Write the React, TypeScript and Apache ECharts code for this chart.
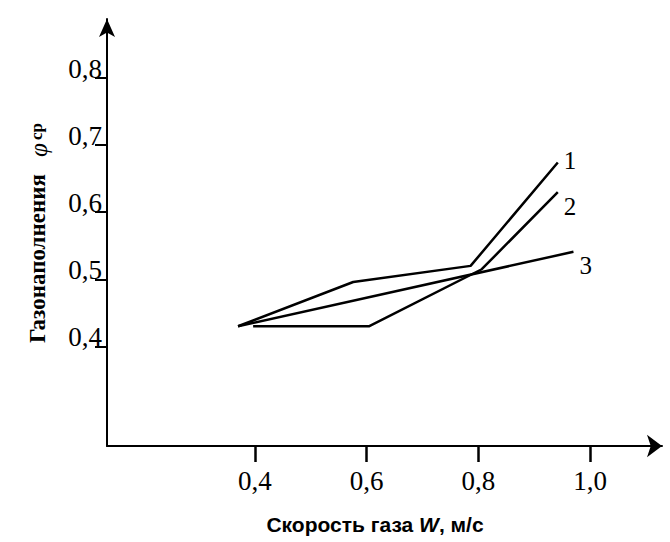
import React, { useEffect, useRef } from "react";
import * as echarts from "echarts";

const xTicks = [0.4, 0.6, 0.8, 1.0];
const yTicks = [0.4, 0.5, 0.6, 0.7, 0.8];
const curve1 = [
  [0.37, 0.43],
  [0.576, 0.496],
  [0.786, 0.52],
  [0.942, 0.674],
];
const curve2 = [
  [0.397, 0.43],
  [0.604, 0.43],
  [0.806, 0.515],
  [0.942, 0.63],
];
const curve3 = [
  [0.37, 0.43],
  [0.97, 0.541],
];
const curveNames = ["1", "2", "3"];
const xTitle = "Скорость газа {w|W}, м/с";
const yTitleMain = "Газонаполнения";
const yTitleSym = "φ";
const yTitleSub = "ср";

const fmt = (v: number) => v.toFixed(1).replace(".", ",");

export default function App() {
  const ref = useRef<HTMLDivElement>(null);
  useEffect(() => {
    if (!ref.current) return;
    const chart = echarts.init(ref.current, null, { renderer: "svg" });
    const serif = '"Liberation Serif", "Times New Roman", serif';
    const lineSeries = (data: number[][], name: string, offset: number[]) => ({
      type: "line",
      name,
      data,
      showSymbol: false,
      symbol: "none",
      silent: true,
      lineStyle: { color: "#000", width: 2.5 },
      endLabel: {
        show: true,
        formatter: name,
        fontFamily: serif,
        fontSize: 25,
        color: "#000",
        distance: 6,
        offset,
      },
    });
    chart.setOption({
      animation: false,
      backgroundColor: "#fff",
      grid: { left: 107, right: 8, top: 19, bottom: 96 },
      xAxis: {
        type: "value",
        min: 0.1356,
        max: 1.1284,
        name: xTitle,
        nameLocation: "middle",
        nameGap: 68,
        nameTextStyle: {
          fontFamily: '"Liberation Sans", Arial, sans-serif',
          fontWeight: "bold",
          fontSize: 21,
          color: "#000",
          padding: [0, 19, 0, 0],
          rich: {
            w: {
              fontFamily: '"Liberation Sans", Arial, sans-serif',
              fontWeight: "bold",
              fontStyle: "italic",
              fontSize: 21,
              color: "#000",
            },
          },
        },
        axisLine: {
          show: true,
          onZero: false,
          symbol: ["none", "arrow"],
          symbolSize: [17, 15],
          lineStyle: { color: "#000", width: 2 },
        },
        axisTick: {
          show: true,
          customValues: xTicks,
          length: 16,
          lineStyle: { color: "#000", width: 2.5 },
        },
        axisLabel: {
          customValues: xTicks,
          formatter: fmt,
          fontFamily: serif,
          fontSize: 27,
          color: "#000",
          margin: 21,
        },
        splitLine: { show: false },
      },
      yAxis: {
        type: "value",
        min: 0.2516,
        max: 0.8879,
        axisLine: {
          show: true,
          onZero: false,
          symbol: ["none", "arrow"],
          symbolSize: [12, 18],
          lineStyle: { color: "#000", width: 2 },
        },
        axisTick: {
          show: true,
          customValues: yTicks,
          length: 12,
          lineStyle: { color: "#000", width: 2 },
        },
        axisLabel: {
          customValues: yTicks,
          formatter: fmt,
          fontFamily: serif,
          fontSize: 27,
          color: "#000",
          margin: 5,
          verticalAlign: "bottom",
          lineHeight: 18,
        },
        splitLine: { show: false },
      },
      graphic: [
        {
          type: "group",
          x: 37,
          y: 343,
          rotation: Math.PI / 2,
          children: [
            {
              type: "text",
              x: 0,
              y: 0,
              style: {
                text: yTitleMain,
                font: 'bold 23px "Liberation Serif"',
                fill: "#000",
                align: "left",
                verticalAlign: "middle",
              },
            },
            {
              type: "text",
              x: 186,
              y: 1,
              style: {
                text: yTitleSym,
                font: 'italic 25px "Liberation Serif"',
                fill: "#000",
                align: "left",
                verticalAlign: "middle",
              },
            },
            {
              type: "text",
              x: 203,
              y: -1,
              style: {
                text: yTitleSub,
                font: 'bold 17px "Liberation Serif"',
                fill: "#000",
                align: "left",
                verticalAlign: "middle",
              },
            },
          ],
        },
      ],
      series: [
        lineSeries(curve1, curveNames[0], [0, -2]),
        lineSeries(curve2, curveNames[1], [0, 14]),
        lineSeries(curve3, curveNames[2], [0, 14]),
      ],
    });
    return () => chart.dispose();
  }, []);
  return (
    <div
      ref={ref}
      style={{ position: "fixed", left: 0, top: 0, width: 670, height: 542 }}
    />
  );
}
